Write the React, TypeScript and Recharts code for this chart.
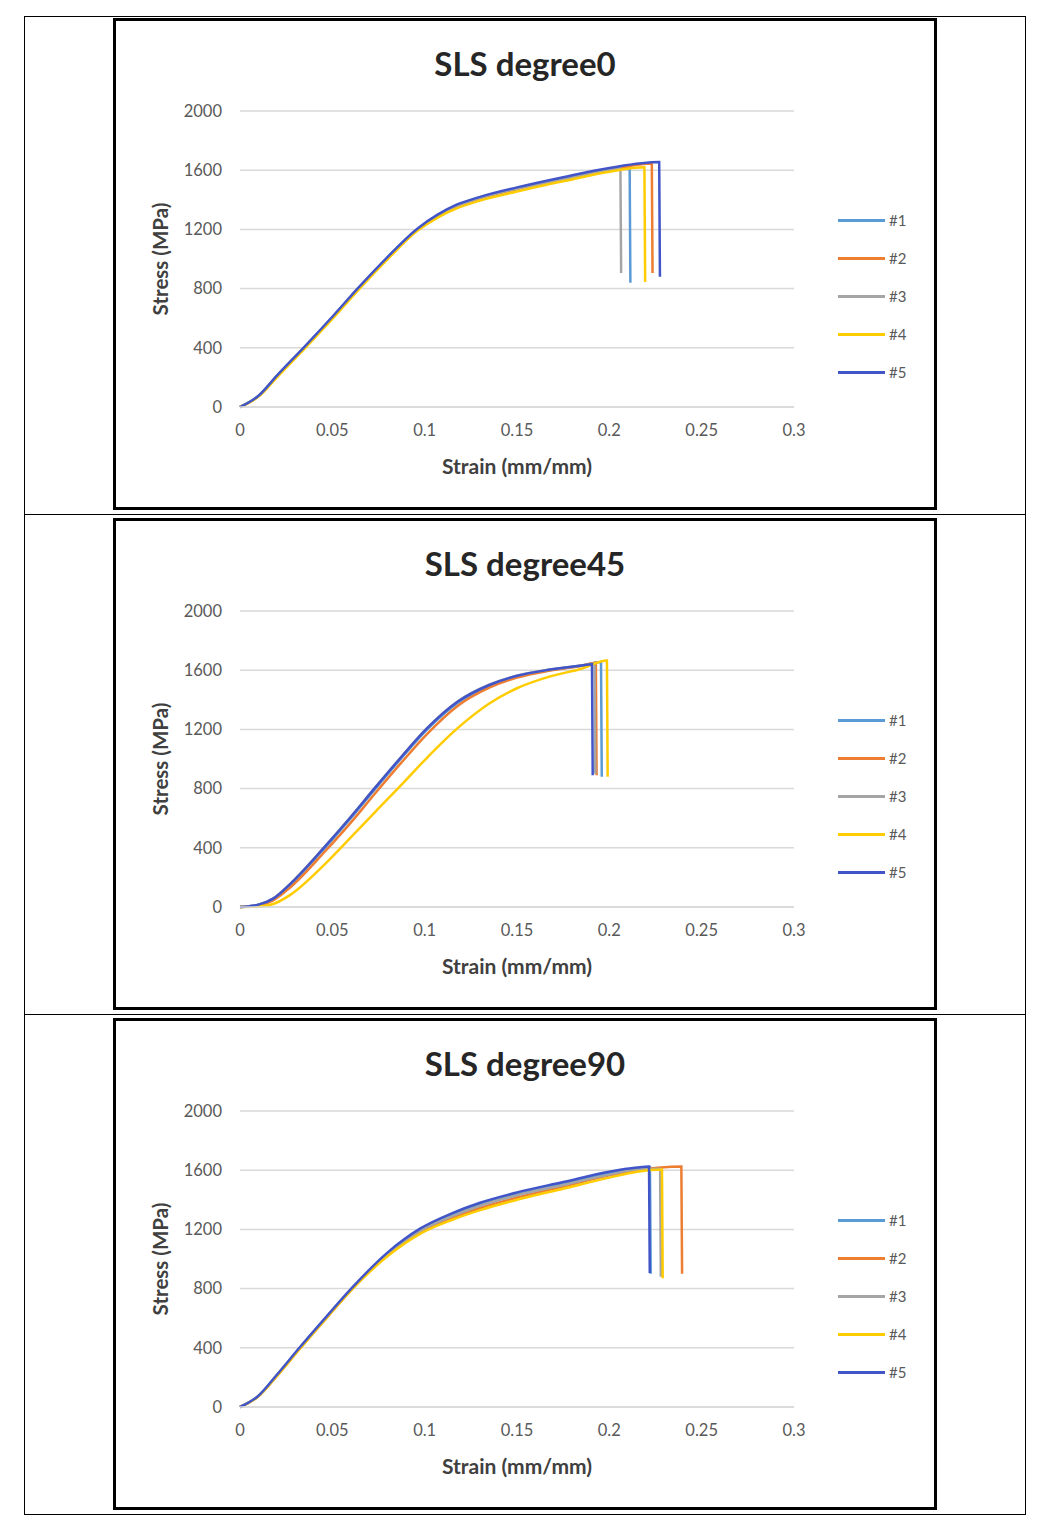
import { LineChart, Line, XAxis, YAxis, CartesianGrid } from "recharts";

const seriesNames = ["#1", "#2", "#3", "#4", "#5"];
const seriesColors = ["#5B9BD5", "#ED7D31", "#A5A5A5", "#FFCC00", "#4155C8"];
const strainTicks = [0, 0.05, 0.1, 0.15, 0.2, 0.25, 0.3];
const stressTicks = [0, 400, 800, 1200, 1600, 2000];

// SLS degree0
const deg0Strain = [0, 0.01, 0.02, 0.035, 0.05, 0.064, 0.08, 0.096, 0.107, 0.117, 0.13, 0.15, 0.175, 0.2];
const deg0Stress = [
  [0, 75, 210, 405, 605, 800, 1010, 1200, 1295, 1360, 1415, 1478, 1545, 1608],
  [0, 72, 205, 400, 600, 795, 1005, 1195, 1290, 1355, 1410, 1473, 1540, 1600],
  [0, 75, 210, 405, 605, 800, 1010, 1200, 1295, 1358, 1412, 1475, 1540, 1600],
  [0, 70, 200, 395, 595, 790, 1000, 1190, 1280, 1340, 1395, 1456, 1525, 1590],
  [0, 76, 212, 408, 610, 805, 1015, 1205, 1300, 1365, 1420, 1484, 1553, 1615],
];
const deg0Break = [0.211, 0.223, 0.206, 0.219, 0.227];
const deg0Peak = [1625, 1645, 1615, 1620, 1655];
const deg0Drop = [840, 905, 905, 845, 880];

// SLS degree45
const deg45Strain = [0, 0.01, 0.018, 0.027, 0.046, 0.06, 0.073, 0.087, 0.101, 0.118, 0.135, 0.15, 0.168, 0.185];
const deg45Stress = [
  [0, 15, 55, 150, 400, 600, 795, 1000, 1195, 1380, 1495, 1558, 1602, 1630],
  [0, 10, 45, 130, 375, 570, 765, 970, 1165, 1360, 1482, 1550, 1598, 1630],
  [0, 16, 58, 155, 410, 610, 805, 1010, 1205, 1390, 1502, 1563, 1605, 1632],
  [0, 4, 20, 80, 290, 470, 640, 820, 1005, 1210, 1375, 1478, 1558, 1610],
  [0, 16, 57, 153, 408, 608, 803, 1008, 1203, 1388, 1500, 1562, 1604, 1632],
];
const deg45Break = [0.1955, 0.1927, 0.192, 0.1987, 0.1906];
const deg45Peak = [1655, 1650, 1645, 1665, 1640];
const deg45Drop = [880, 890, 900, 880, 890];

// SLS degree90
const deg90Strain = [0, 0.01, 0.02, 0.0325, 0.045, 0.0606, 0.08, 0.0975, 0.115, 0.13, 0.15, 0.175, 0.2, 0.215];
const deg90Stress = [
  [0, 75, 215, 400, 580, 800, 1040, 1200, 1300, 1370, 1440, 1510, 1580, 1610],
  [0, 72, 210, 395, 575, 795, 1030, 1185, 1280, 1345, 1415, 1490, 1565, 1600],
  [0, 75, 215, 400, 580, 800, 1035, 1190, 1290, 1360, 1430, 1500, 1570, 1605],
  [0, 72, 210, 395, 575, 795, 1020, 1170, 1265, 1330, 1400, 1475, 1550, 1590],
  [0, 76, 218, 405, 585, 805, 1045, 1205, 1310, 1380, 1450, 1520, 1590, 1618],
];
const deg90Break = [0.222, 0.239, 0.2275, 0.2285, 0.2215];
const deg90Peak = [1620, 1625, 1610, 1605, 1625];
const deg90Drop = [900, 900, 880, 870, 905];

const FONT = "Lato, 'Open Sans', sans-serif";

type Pt = { x: number; y: number };

function buildSeries(grid: number[], stress: number[][], brk: number[], peak: number[], drop: number[]) {
  return stress.map((vals, i) => {
    const pts: Pt[] = [];
    grid.forEach((x, j) => {
      if (x < brk[i]) pts.push({ x, y: vals[j] });
    });
    pts.push({ x: brk[i], y: peak[i] });
    pts.push({ x: brk[i] + 0.0004, y: drop[i] });
    return pts;
  });
}

function StressChart({ title, top, series }: { title: string; top: number; series: Pt[][] }) {
  return (
    <div
      style={{
        position: "absolute",
        left: 113,
        top,
        width: 824,
        height: 492,
        border: "3px solid #000",
        boxSizing: "border-box",
        background: "#fff",
        fontFamily: FONT,
      }}
    >
      <div
        style={{
          position: "absolute",
          left: 0,
          top: 20,
          width: 818,
          textAlign: "center",
          fontSize: 33,
          fontWeight: 700,
          color: "#262626",
          lineHeight: "44px",
        }}
      >
        {title}
      </div>
      <LineChart width={818} height={486} margin={{ top: 90, right: 140, bottom: 70, left: 0 }}>
        <CartesianGrid vertical={false} stroke="#d9d9d9" strokeWidth={1.5} />
        <XAxis
          type="number"
          dataKey="x"
          domain={[0, 0.3]}
          ticks={strainTicks}
          tickLine={false}
          axisLine={{ stroke: "#d9d9d9", strokeWidth: 1.5 }}
          tick={{ fontSize: 16.5, fill: "#595959", fontFamily: FONT }}
          tickMargin={11}
          height={30}
          allowDuplicatedCategory={false}
        />
        <YAxis
          type="number"
          domain={[0, 2000]}
          ticks={stressTicks}
          tickLine={false}
          axisLine={false}
          width={124}
          tickMargin={12}
          tick={{ fontSize: 16.5, fill: "#595959", fontFamily: FONT }}
        />
        {series.map((pts, i) => (
          <Line
            key={seriesNames[i]}
            data={pts}
            dataKey="y"
            name={seriesNames[i]}
            type="monotone"
            stroke={seriesColors[i]}
            strokeWidth={2.5}
            dot={false}
            isAnimationActive={false}
          />
        ))}
      </LineChart>
      <div
        style={{
          position: "absolute",
          left: 261,
          top: 432,
          width: 280,
          lineHeight: "26px",
          textAlign: "center",
          fontSize: 21,
          fontWeight: 700,
          color: "#404040",
        }}
      >
        Strain (mm/mm)
      </div>
      <div
        style={{
          position: "absolute",
          left: 44 - 90,
          top: 238 - 13,
          width: 180,
          height: 26,
          lineHeight: "26px",
          textAlign: "center",
          fontSize: 20.5,
          fontWeight: 700,
          color: "#404040",
          transform: "rotate(-90deg)",
        }}
      >
        Stress (MPa)
      </div>
      <div style={{ position: "absolute", left: 722, top: 180 }}>
        {seriesNames.map((n, i) => (
          <div key={n} style={{ display: "flex", alignItems: "center", height: 38 }}>
            <div style={{ width: 47, height: 3, background: seriesColors[i] }} />
            <span style={{ marginLeft: 4, fontSize: 15, color: "#595959" }}>{n}</span>
          </div>
        ))}
      </div>
    </div>
  );
}

export default function App() {
  const s0 = buildSeries(deg0Strain, deg0Stress, deg0Break, deg0Peak, deg0Drop);
  const s45 = buildSeries(deg45Strain, deg45Stress, deg45Break, deg45Peak, deg45Drop);
  const s90 = buildSeries(deg90Strain, deg90Stress, deg90Break, deg90Peak, deg90Drop);
  return (
    <div style={{ position: "absolute", left: 0, top: 0, width: 1042, height: 1517, background: "#fff" }}>
      <div
        style={{
          position: "absolute",
          left: 24,
          top: 16,
          width: 1002,
          height: 1499,
          border: "1px solid #000",
          boxSizing: "border-box",
        }}
      />
      <div style={{ position: "absolute", left: 24, top: 514, width: 1002, height: 1, background: "#000" }} />
      <div style={{ position: "absolute", left: 24, top: 1014, width: 1002, height: 1, background: "#000" }} />
      <StressChart title="SLS degree0" top={18} series={s0} />
      <StressChart title="SLS degree45" top={518} series={s45} />
      <StressChart title="SLS degree90" top={1018} series={s90} />
    </div>
  );
}
